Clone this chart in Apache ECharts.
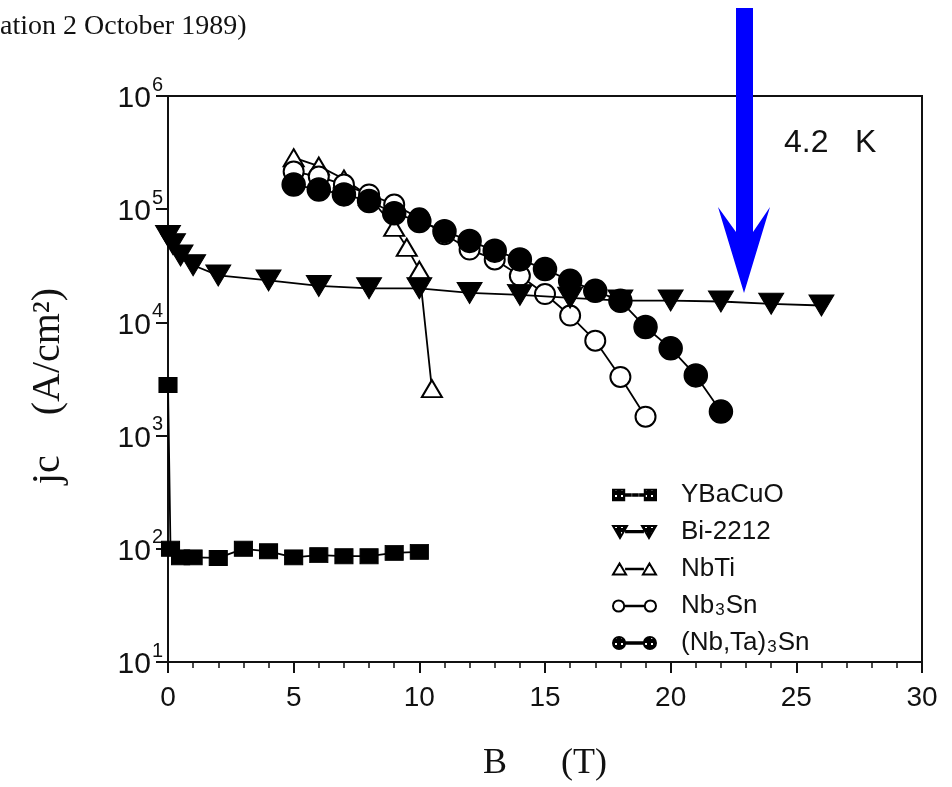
<!DOCTYPE html>
<html>
<head>
<meta charset="utf-8">
<script src="https://cdn.jsdelivr.net/npm/echarts@6/dist/echarts.min.js"></script>
<style>html,body{margin:0;padding:0;background:#fff}#c{width:952px;height:787px}</style>
</head>
<body>
<div id="c"></div>
<script>
// ---- data (B in tesla, jc in A/cm^2) ----
const seriesNames = ['YBaCuO', 'Bi-2212', 'NbTi', 'Nb₃Sn', '(Nb,Ta)₃Sn'];
const xTicks = [0, 5, 10, 15, 20, 25, 30];
const yTickExponents = [1, 2, 3, 4, 5, 6];

const B_YBaCuO = [0, 0.1, 0.5, 1, 2, 3, 4, 5, 6, 7, 8, 9, 10];
const J_YBaCuO = [2800, 100, 84, 84, 83, 100, 95, 84, 88, 86, 86, 92, 94];

const B_Bi2212 = [0, 0.2, 0.5, 1, 2, 4, 6, 8, 10, 12, 14, 16, 18, 20, 22, 24, 26];
const J_Bi2212 = [58000, 49000, 39000, 32000, 26000, 23500, 21000, 20000, 20000, 18200, 17500, 16500, 15600, 15600, 15300, 14600, 14100];

const B_NbTi = [5, 6, 7, 8, 9, 9.5, 10, 10.5];
const J_NbTi = [285000, 240000, 185000, 130000, 69000, 46000, 29000, 2600];

const B_Nb3Sn = [5, 6, 7, 8, 9, 10, 11, 12, 13, 14, 15, 16, 17, 18, 19];
const J_Nb3Sn = [215000, 194000, 165000, 135000, 110000, 83000, 60000, 44000, 36000, 25800, 17800, 11500, 6900, 3300, 1470];

const B_NbTa3Sn = [5, 6, 7, 8, 9, 10, 11, 12, 13, 14, 15, 16, 17, 18, 19, 20, 21, 22];
const J_NbTa3Sn = [165000, 149000, 135000, 118000, 92000, 78500, 64000, 52500, 43000, 36000, 29600, 23300, 19000, 15500, 9100, 5900, 3400, 1630];

function zip(xs, ys) { return xs.map((x, i) => [x, ys[i]]); }

function makePattern() {
  const c = document.createElement('canvas');
  c.width = 6; c.height = 6;
  const g = c.getContext('2d');
  g.fillStyle = '#000'; g.fillRect(0, 0, 6, 6);
  g.fillStyle = '#fff'; g.fillRect(2, 2, 2, 2);
  return c;
}
const pat = { image: makePattern(), repeat: 'repeat' };

// legend icons: symbol - line - symbol
const ICONS = {
  square: 'path://M0,2.5H12V13.5H0Z M14,7.2H19V8.8H14Z M21.5,7.2H26.5V8.8H21.5Z M29,7.2H33V8.8H29Z M34,2.5H46V13.5H34Z',
  down: 'path://M0,2H15L7.5,15Z M14,7.3H32V8.7H14Z M31,2H46L38.5,15Z',
  up: 'path://M0,14L7,2L14,14Z M14,7.6H32V8.4H14Z M32,14L39,2L46,14Z',
  ring: 'path://M0,8A6,6,0,1,1,12,8A6,6,0,1,1,0,8Z M12,7.6H34V8.4H12Z M34,8A6,6,0,1,1,46,8A6,6,0,1,1,34,8Z',
  disc: 'path://M0,8A6.5,6.5,0,1,1,13,8A6.5,6.5,0,1,1,0,8Z M13,7.3H33V8.7H13Z M33,8A6.5,6.5,0,1,1,46,8A6.5,6.5,0,1,1,33,8Z'
};

const chart = echarts.init(document.getElementById('c'), null, { renderer: 'canvas' });

const sansFont = 'Liberation Sans';
const serifFont = 'Liberation Serif';

const lineBase = { color: '#000', width: 1.8 };

const option = {
  backgroundColor: '#fff',
  animation: false,
  grid: { left: 168, right: 30, top: 96, bottom: 122, show: true, borderColor: '#111', borderWidth: 2, backgroundColor: 'transparent' },
  xAxis: {
    type: 'value', min: 0, max: 30, interval: 5,
    name: 'B      (T)', nameLocation: 'middle', nameGap: 84,
    nameTextStyle: { fontFamily: serifFont, fontSize: 36, color: '#111' },
    axisLine: { lineStyle: { color: '#111', width: 2 } },
    axisTick: { inside: false, length: 11, lineStyle: { color: '#111', width: 2 } },
    minorTick: { show: true, splitNumber: 5, length: 6, lineStyle: { color: '#111', width: 1.5 } },
    axisLabel: { fontFamily: sansFont, fontSize: 28, color: '#111', margin: 22,
      formatter: v => xTicks.includes(v) ? String(v) : '' },
    splitLine: { show: false }
  },
  yAxis: {
    type: 'log', logBase: 10, min: 10, max: 1e6,
    name: '{j|jc}{t|    (A/cm²)}', nameLocation: 'middle', nameGap: 100,
    nameTextStyle: { padding: [0, 14, 0, 0], rich: { j: { fontFamily: serifFont, fontSize: 40, color: '#111' }, t: { fontFamily: serifFont, fontSize: 40, color: '#111' } } },
    axisLine: { lineStyle: { color: '#111', width: 2 } },
    axisTick: { inside: false, length: 12, lineStyle: { color: '#111', width: 2 } },
    axisLabel: {
      margin: 5,
      formatter: v => {
        const e = Math.round(Math.log10(v));
        return yTickExponents.includes(e) ? '{b|10}{s|' + e + '}' : '';
      },
      rich: {
        b: { fontFamily: sansFont, fontSize: 30, color: '#111', lineHeight: 30, verticalAlign: 'middle', padding: [6, 0, 0, 0] },
        s: { fontFamily: sansFont, fontSize: 20, color: '#111', lineHeight: 20, verticalAlign: 'middle', padding: [0, 0, 22, 1] }
      }
    },
    splitLine: { show: false }
  },
  legend: {
    orient: 'vertical', left: 607, top: 477, itemWidth: 43, itemHeight: 16, itemGap: 11,
    data: [
      { name: seriesNames[0], icon: ICONS.square },
      { name: seriesNames[1], icon: ICONS.down },
      { name: seriesNames[2], icon: ICONS.up },
      { name: seriesNames[3], icon: ICONS.ring },
      { name: seriesNames[4], icon: ICONS.disc }
    ],
    formatter: n => '{p|}' + (n.indexOf('₃') >= 0 ? n.split('₃').map(p => '{a|' + p + '}').join('{s|3}') : '{a|' + n + '}'),
    textStyle: {
      rich: {
        p: { width: 20, lineHeight: 26 },
        a: { fontFamily: sansFont, fontSize: 26, color: '#111', lineHeight: 26 },
        s: { fontFamily: sansFont, fontSize: 17, color: '#111', lineHeight: 14, padding: [9, 1, 0, 1] }
      }
    }
  },
  graphic: [
    { type: 'text', left: 0, top: 13, style: { text: 'ation 2 October 1989)', font: '28px "Liberation Serif"', fill: '#111' } },
    { type: 'text', left: 784, top: 127, style: { text: '4.2', font: '32px "Liberation Sans"', fill: '#111' } },
    { type: 'text', left: 855, top: 127, style: { text: 'K', font: '32px "Liberation Sans"', fill: '#111' } },
    { type: 'polygon', z: 100, shape: { points: [[736, 8], [753, 8], [753, 232], [770, 207], [744, 293], [718, 207], [736, 232]] }, style: { fill: '#0000ff' } }
  ],
  series: [
    { name: seriesNames[0], type: 'line', z: 3, data: zip(B_YBaCuO, J_YBaCuO), symbol: 'rect', symbolSize: [18, 15],
      itemStyle: { color: pat, borderColor: '#000', borderWidth: 1 }, lineStyle: lineBase },
    { name: seriesNames[1], type: 'line', z: 5, data: zip(B_Bi2212, J_Bi2212), symbol: 'triangle', symbolRotate: 180, symbolSize: [25, 21],
      itemStyle: { color: pat, borderColor: '#000', borderWidth: 1 }, lineStyle: lineBase },
    { name: seriesNames[2], type: 'line', z: 2, data: zip(B_NbTi, J_NbTi), symbol: 'triangle', symbolSize: [20, 17],
      itemStyle: { color: '#fff', borderColor: '#000', borderWidth: 2 }, lineStyle: lineBase },
    { name: seriesNames[3], type: 'line', z: 3, data: zip(B_Nb3Sn, J_Nb3Sn), symbol: 'circle', symbolSize: 20,
      itemStyle: { color: '#fff', borderColor: '#000', borderWidth: 2 }, lineStyle: lineBase },
    { name: seriesNames[4], type: 'line', z: 4, data: zip(B_NbTa3Sn, J_NbTa3Sn), symbol: 'circle', symbolSize: 23,
      itemStyle: { color: pat, borderColor: '#000', borderWidth: 1.5 }, lineStyle: lineBase }
  ]
};
chart.setOption(option);
</script>
</body>
</html>
